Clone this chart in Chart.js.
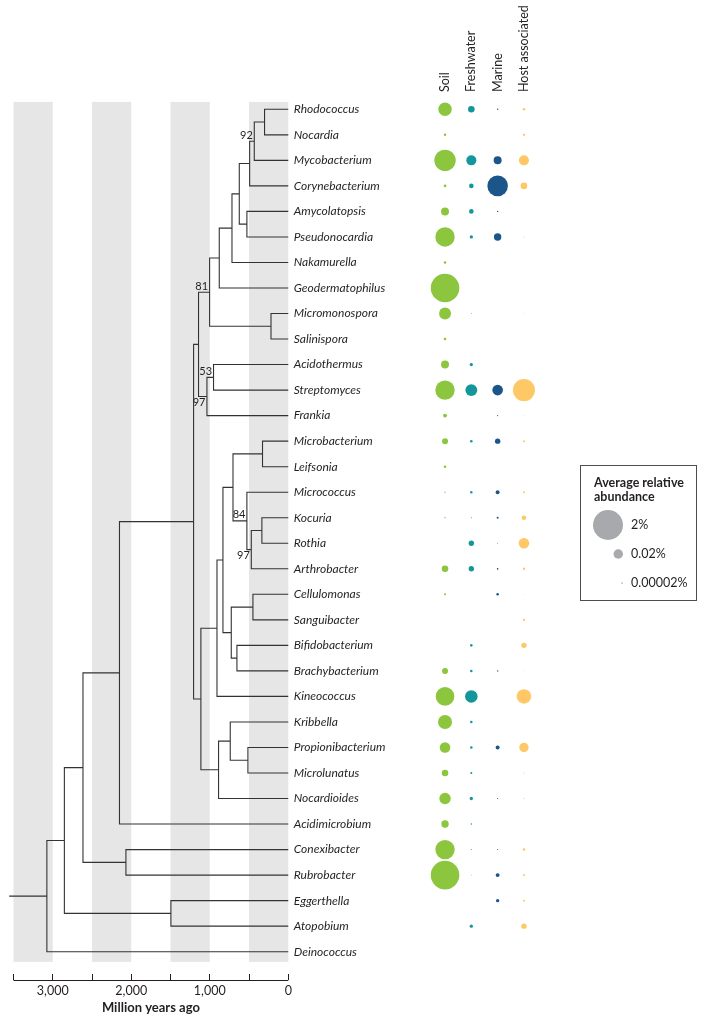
<!DOCTYPE html>
<html>
<head>
<meta charset="utf-8">
<script src="https://cdn.jsdelivr.net/npm/chart.js@4.4.1/dist/chart.umd.min.js"></script>
<style>
  body { margin: 0; background: #fff; }
  #wrap { width: 707px; height: 1025px; }
</style>
</head>
<body>
<div id="wrap"><canvas id="treeChart" width="707" height="1025"></canvas></div>
<script>
const taxa = ['Rhodococcus', 'Nocardia', 'Mycobacterium', 'Corynebacterium', 'Amycolatopsis',
  'Pseudonocardia', 'Nakamurella', 'Geodermatophilus', 'Micromonospora', 'Salinispora',
  'Acidothermus', 'Streptomyces', 'Frankia', 'Microbacterium', 'Leifsonia', 'Micrococcus',
  'Kocuria', 'Rothia', 'Arthrobacter', 'Cellulomonas', 'Sanguibacter', 'Bifidobacterium',
  'Brachybacterium', 'Kineococcus', 'Kribbella', 'Propionibacterium', 'Microlunatus',
  'Nocardioides', 'Acidimicrobium', 'Conexibacter', 'Rubrobacter', 'Eggerthella',
  'Atopobium', 'Deinococcus'];

const habitats = ['Soil', 'Freshwater', 'Marine', 'Host associated'];

// average relative abundance in %, null = not found
const soil = [0.08, 0.0001, 0.52, 0.0001, 0.01, 0.35, 0.0001, 1.65, 0.05, 0.0001, 0.01, 0.35,
  0.0006, 0.0032, 0.0001, 0.00001, 0.00001, null, 0.0047, 0.00004, null, null, 0.0032, 0.3,
  0.095, 0.031, 0.0047, 0.042, 0.0074, 0.35, 1.65, null, null, null];
const freshwater = [0.0047, null, 0.025, 0.0011, 0.0011, 0.0003, null, null, 0.000001, null,
  0.0003, 0.05, null, 0.0001, null, 0.00008, 0.000003, 0.0021, 0.0021, null, null, 0.0001,
  0.0001, 0.062, 0.0001, 0.0001, 0.00004, 0.0003, 0.00001, 0.000003, 0.000001, null, 0.0003, null];
const marine = [0.00001, null, 0.01, 0.44, 0.00001, 0.0074, null, null, null, null, null, 0.031,
  0.000005, 0.0021, null, 0.0006, 0.00004, 0.000001, 0.00002, 0.0001, null, null, 0.00001, null,
  null, 0.0006, null, 0.000005, null, 0.000003, 0.0006, 0.0003, null, null];
const hostAssociated = [0.0001, 0.00008, 0.025, 0.0047, null, 0.000003, null, null, 0.000001,
  null, null, 0.58, 0.000001, 0.00004, null, 0.00004, 0.0011, 0.031, 0.00008, 0.000001, 0.00008,
  0.0021, 0.000001, 0.11, null, 0.019, 0.000005, 0.000005, null, 0.0001, 0.00004, 0.00004, 0.0021, null];

// internal nodes: [id, child, child, age (million years ago)]
const nodes = [
  ['A', 'Rhodococcus', 'Nocardia', 302],
  ['B', 'A', 'Mycobacterium', 433],
  ['C', 'B', 'Corynebacterium', 492],
  ['D', 'Amycolatopsis', 'Pseudonocardia', 527],
  ['E', 'C', 'D', 624],
  ['F', 'E', 'Nakamurella', 717],
  ['G', 'F', 'Geodermatophilus', 879],
  ['MS', 'Micromonospora', 'Salinispora', 220],
  ['H', 'G', 'MS', 1002],
  ['J', 'Acidothermus', 'Streptomyces', 952],
  ['K', 'J', 'Frankia', 1036],
  ['I', 'H', 'K', 1143],
  ['M', 'Microbacterium', 'Leifsonia', 328],
  ['N', 'Kocuria', 'Rothia', 336],
  ['O', 'N', 'Arthrobacter', 471],
  ['P', 'Micrococcus', 'O', 527],
  ['Q', 'M', 'P', 704],
  ['S', 'Cellulomonas', 'Sanguibacter', 450],
  ['T', 'Bifidobacterium', 'Brachybacterium', 654],
  ['U', 'S', 'T', 726],
  ['V', 'Q', 'U', 832],
  ['W', 'V', 'Kineococcus', 908],
  ['Y', 'Propionibacterium', 'Microlunatus', 514],
  ['Z', 'Kribbella', 'Y', 739],
  ['AA', 'Z', 'Nocardioides', 888],
  ['X', 'W', 'AA', 1113],
  ['L', 'I', 'X', 1206],
  ['AB', 'L', 'Acidimicrobium', 2150],
  ['AC', 'Conexibacter', 'Rubrobacter', 2068],
  ['AD', 'AB', 'AC', 2615],
  ['AE', 'Eggerthella', 'Atopobium', 1495],
  ['AF', 'AD', 'AE', 2852],
  ['ROOT', 'AF', 'Deinococcus', 3075]
];
const rootAge = 3555;

// bootstrap support
const support = [['B', 92], ['H', 81], ['J', 53], ['K', 97], ['P', 84], ['O', 97]];
const supportBelow = ['K', 'O'];

const timeTicks = [3500, 3000, 2500, 2000, 1500, 1000, 500, 0];
const bands = [[3500, 3000], [2500, 2000], [1500, 1000], [500, 0]];
const legendValues = [2, 0.02, 0.00002];

const habitatColors = ['#8cc63f', '#14979b', '#1b5589', '#fdc865'];
const textColor = '#231f20';

function radius(v) {
  return 15 * Math.pow(v / 2, 0.25);
}

// build tree polylines
const pos = {};
taxa.forEach((t, i) => { pos[t] = { age: 0, y: i }; });
const treePts = [];
nodes.forEach(([id, a, b, age]) => {
  const A = pos[a], B = pos[b];
  pos[id] = { age: age, y: (A.y + B.y) / 2 };
  treePts.push({ x: A.age, y: A.y }, { x: age, y: A.y }, { x: age, y: B.y }, { x: B.age, y: B.y },
    { x: null, y: null });
});
const root = pos['ROOT'];
treePts.push({ x: rootAge, y: root.y }, { x: root.age, y: root.y });

const bubbleSets = [soil, freshwater, marine, hostAssociated].map((vals, c) => ({
  type: 'bubble',
  label: habitats[c],
  xAxisID: 'x2',
  data: vals.map((v, i) => v == null ? null : { x: c, y: i, r: radius(v) }).filter(Boolean),
  backgroundColor: habitatColors[c],
  borderWidth: 0,
  hoverRadius: 0
}));

const decor = {
  id: 'decor',
  beforeDatasetsDraw(chart) {
    const { ctx, scales: { x, y } } = chart;
    ctx.save();
    ctx.fillStyle = '#e6e6e7';
    const top = y.getPixelForValue(-0.29), bot = y.getPixelForValue(33.4);
    bands.forEach(([a, b]) => {
      const x1 = x.getPixelForValue(a), x2 = x.getPixelForValue(b);
      ctx.fillRect(x1, top, x2 - x1, bot - top);
    });
    ctx.restore();
  },
  afterDraw(chart) {
    const { ctx, scales: { x, y, x2 } } = chart;
    ctx.save();
    ctx.fillStyle = textColor;
    ctx.strokeStyle = textColor;

    // time axis line
    const axY = x.top + 6.5;
    ctx.lineWidth = 1;
    ctx.beginPath();
    ctx.moveTo(x.getPixelForValue(3500), axY);
    ctx.lineTo(x.getPixelForValue(0), axY);
    ctx.stroke();
    ctx.font = 'bold 13px Lato';
    ctx.textAlign = 'center';
    ctx.textBaseline = 'middle';
    ctx.fillText('Million years ago', (x.getPixelForValue(3500) + x.getPixelForValue(0)) / 2, 1008);

    // taxon names
    ctx.font = 'italic 12px Lato';
    ctx.textAlign = 'left';
    const lx = x.getPixelForValue(0) + 5.5;
    taxa.forEach((t, i) => ctx.fillText(t, lx, y.getPixelForValue(i)));

    // support values
    ctx.font = '11px Lato';
    ctx.textAlign = 'right';
    support.forEach(([id, val]) => {
      const n = pos[id];
      const py = y.getPixelForValue(n.y) + (supportBelow.includes(id) ? 6 : -6);
      ctx.fillText(String(val), x.getPixelForValue(n.age) - 1.5, py);
    });

    // habitat headers
    ctx.font = '12.5px Lato';
    ctx.textAlign = 'left';
    habitats.forEach((h, c) => {
      ctx.save();
      ctx.translate(x2.getPixelForValue(c), 92);
      ctx.rotate(-Math.PI / 2);
      ctx.fillText(h, 0, 0);
      ctx.restore();
    });

    // size legend
    ctx.strokeStyle = '#4d4d4d';
    ctx.strokeRect(580.5, 465.5, 116, 135);
    ctx.font = 'bold 12.5px Lato';
    ctx.fillText('Average relative', 594, 483);
    ctx.fillText('abundance', 594, 497);
    ctx.font = '12.5px Lato';
    const ly = [525, 554, 583];
    legendValues.forEach((v, k) => {
      const r = radius(v);
      ctx.fillStyle = '#a7a9ac';
      ctx.beginPath();
      ctx.arc(623 - Math.max(r, 1), ly[k], r, 0, Math.PI * 2);
      ctx.fill();
      ctx.fillStyle = textColor;
      ctx.fillText(v + '%', 631, ly[k]);
    });
    ctx.restore();
  }
};

new Chart(document.getElementById('treeChart'), {
  type: 'scatter',
  data: {
    datasets: [{
      label: 'tree',
      data: treePts,
      showLine: true,
      spanGaps: false,
      borderColor: '#333333',
      borderWidth: 1.1,
      pointRadius: 0,
      pointHoverRadius: 0
    }].concat(bubbleSets)
  },
  options: {
    responsive: false,
    animation: false,
    devicePixelRatio: 1,
    layout: { autoPadding: false, padding: { top: 102, left: 0, right: 0, bottom: 0 } },
    plugins: { legend: { display: false }, tooltip: { enabled: false } },
    events: [],
    scales: {
      x: {
        type: 'linear',
        reverse: true,
        min: -5334,
        max: 3672,
        afterBuildTicks: s => { s.ticks = timeTicks.map(v => ({ value: v })); },
        afterFit: s => { s.height = 51; s.paddingLeft = 0; s.paddingRight = 0; },
        grid: { drawOnChartArea: false, drawTicks: true, tickLength: 6, color: textColor, lineWidth: 1 },
        border: { display: false },
        ticks: {
          autoSkip: false,
          maxRotation: 0,
          padding: 3,
          color: textColor,
          font: { family: 'Lato', size: 12.5 },
          callback: v => v % 1000 === 0 ? v.toLocaleString('en-US') : ''
        }
      },
      x2: { type: 'linear', display: false, min: -16.92, max: 9.96 },
      y: { type: 'linear', display: false, reverse: true, min: -0.286, max: 33.874 }
    }
  },
  plugins: [decor]
});
</script>
</body>
</html>
